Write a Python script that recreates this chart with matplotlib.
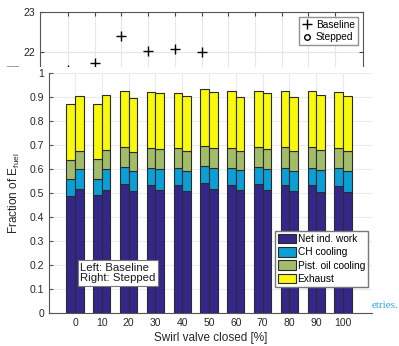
import numpy as np
import matplotlib
matplotlib.use('Agg')
import matplotlib.pyplot as plt
from matplotlib.patches import Patch

plt.rcParams['font.family'] = ['Liberation Sans', 'DejaVu Sans']
plt.rcParams['mathtext.fontset'] = 'custom'
plt.rcParams['mathtext.rm'] = 'Liberation Sans'

swirl = [0, 10, 20, 30, 40, 50, 60, 70, 80, 90, 100]

# energy fractions, baseline (left bars)
base_work = [0.486, 0.490, 0.539, 0.532, 0.535, 0.542, 0.533, 0.536, 0.533, 0.532, 0.529]
base_ch = [0.071, 0.068, 0.068, 0.071, 0.068, 0.069, 0.071, 0.071, 0.071, 0.073, 0.074]
base_oil = [0.080, 0.084, 0.083, 0.083, 0.083, 0.085, 0.084, 0.083, 0.086, 0.085, 0.083]
base_exh = [0.233, 0.230, 0.234, 0.233, 0.231, 0.236, 0.236, 0.234, 0.234, 0.234, 0.233]

# stepped (right bars)
step_work = [0.516, 0.513, 0.507, 0.514, 0.508, 0.515, 0.511, 0.511, 0.507, 0.504, 0.503]
step_ch = [0.083, 0.086, 0.083, 0.085, 0.085, 0.088, 0.083, 0.089, 0.083, 0.092, 0.087]
step_oil = [0.077, 0.080, 0.079, 0.083, 0.081, 0.083, 0.081, 0.083, 0.084, 0.085, 0.084]
step_exh = [0.230, 0.229, 0.225, 0.233, 0.229, 0.233, 0.224, 0.232, 0.225, 0.229, 0.229]

# the chart partly hidden behind
top_base = [21.56, 21.72, 22.40, 22.03, 22.08, 21.99, 21.50, 21.45, 21.42, 21.38, 21.33]
top_step = [21.20, 21.25, 21.30, 21.22, 21.24, 21.20, 21.15, 21.12, 21.10, 21.08, 21.05]

labels = ['Net ind. work', 'CH cooling', 'Pist. oil cooling', 'Exhaust']
colors = ['#33288a', '#0b9fd6', '#a2bc6a', '#f9f90c']

W, H = 399, 346
fig = plt.figure(figsize=(W / 100, H / 100), dpi=100)

def box(x0, y0, x1, y1):
    return [x0 / W, 1 - y1 / H, (x1 - x0) / W, (y1 - y0) / H]

# background chart
ax_top = fig.add_axes(box(40, 12, 363, 172))
ax_top.plot(swirl, top_base, '+', color='k', ms=7, mew=1, label='Baseline')
ax_top.plot(swirl, top_step, 'o', color='k', mfc='none', ms=4, mew=1, label='Stepped')
ax_top.set_xlim(-10.5, 110.5)
ax_top.set_ylim(19, 23)
ax_top.set_xticks(swirl)
ax_top.set_xticklabels([''] * len(swirl))
ax_top.set_yticks([19, 20, 21, 22, 23])
ax_top.set_yticklabels(['', '', '', '22', '23'])
ax_top.tick_params(direction='in', length=3, labelsize=7.5, top=True, right=True, colors='#444444', labelcolor='#222222')
ax_top.grid(True, color='#e6e6e6', lw=0.8)
ax_top.set_axisbelow(True)
for s in ax_top.spines.values():
    s.set_color('#555555')
ax_top.set_ylabel('IMEP [bar]', fontsize=8.5)
ax_top.yaxis.set_label_coords(-20 / 323, 0.5)
ax_top.legend(loc='upper right', fontsize=7.3, frameon=True, fancybox=False, edgecolor='#777777',
              handlelength=1.0, handletextpad=0.4, borderpad=0.3, labelspacing=0.2, borderaxespad=0,
              bbox_to_anchor=(358 / W, 1 - 17 / H), bbox_transform=fig.transFigure)

# white overlay
cover = fig.add_axes([0, 0, 1, (H - 67) / H])
cover.set_xticks([])
cover.set_yticks([])
for s in cover.spines.values():
    s.set_visible(False)
cover.set_facecolor('white')

fig.text(372 / W, 1 - 308 / H, 'etries.', color='#2aa0e6', fontsize=8,
         family='Liberation Serif', va='baseline', ha='left')

# main chart
ax = fig.add_axes(box(49, 73, 372, 313))
x = np.array(swirl, dtype=float)
bw = 3.2
for xs, parts in [(x - bw / 2, [base_work, base_ch, base_oil, base_exh]),
                  (x + bw / 2, [step_work, step_ch, step_oil, step_exh])]:
    bottom = np.zeros(len(swirl))
    for vals, c in zip(parts, colors):
        ax.bar(xs, vals, bw, bottom=bottom, color=c, edgecolor='#2b2b2b', lw=0.8)
        bottom += np.array(vals)

ax.set_xlim(-9.7, 110.8)
ax.set_ylim(0, 1)
ax.set_xticks(swirl)
ax.set_yticks(np.arange(0, 1.01, 0.1))
ax.set_yticklabels(['0', '0.1', '0.2', '0.3', '0.4', '0.5', '0.6', '0.7', '0.8', '0.9', '1'])
ax.tick_params(direction='in', length=3, labelsize=7.5, colors='#555555', labelcolor='#262626')
ax.grid(True, color='#ebebeb', lw=0.8)
ax.set_axisbelow(True)
ax.spines['top'].set_visible(False)
ax.spines['right'].set_visible(False)
ax.spines['left'].set_color('#555555')
ax.spines['bottom'].set_color('#555555')
ax.set_xlabel('Swirl valve closed [%]', fontsize=8.5, color='#262626', labelpad=3)
ax.set_ylabel('Fraction of E$_{\\mathrm{fuel}}$', fontsize=8.5, color='#262626')
ax.yaxis.set_label_coords(-27 / 323, 0.5)

handles = [Patch(facecolor=c, edgecolor='#2b2b2b', lw=0.8) for c in colors]
ax.legend(handles, labels, fontsize=7.3, frameon=True, fancybox=False, edgecolor='#777777',
          framealpha=1, loc='lower right', handlelength=1.7, handleheight=1.1,
          handletextpad=0.2, borderpad=0.3, labelspacing=0.3, borderaxespad=0,
          bbox_to_anchor=(368 / W, 1 - 287 / H), bbox_transform=fig.transFigure)

fig.text(80 / W, 1 - 273 / H, 'Left: Baseline\nRight: Stepped', fontsize=8.2, va='center', ha='left',
         linespacing=1.1, color='#1a1a1a',
         bbox=dict(boxstyle='square,pad=0.2', fc='white', ec='#777777', lw=0.8))

fig.savefig('out.png', dpi=100)
